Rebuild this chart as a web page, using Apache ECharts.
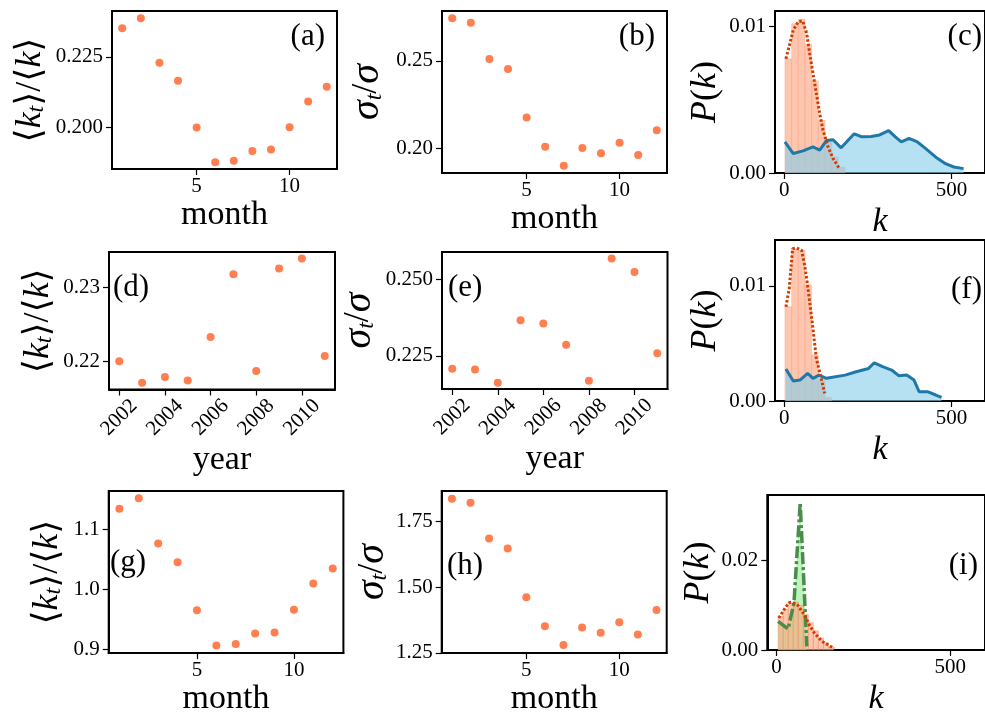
<!DOCTYPE html>
<html>
<head>
<meta charset="utf-8">
<script src="https://cdn.jsdelivr.net/npm/echarts@6/dist/echarts.min.js"></script>
<style>
  html, body { margin: 0; padding: 0; background: #fff; }
  #chart { width: 985px; height: 717px; }
</style>
</head>
<body>
<div id="chart"></div>
<script>
// ---- data ----
const months = [1, 2, 3, 4, 5, 6, 7, 8, 9, 10, 11, 12];
const years = [2002, 2003, 2004, 2005, 2006, 2007, 2008, 2009, 2010, 2011];

const aVals = [0.2351, 0.2386, 0.2229, 0.2165, 0.2000, 0.1877, 0.1882, 0.1917, 0.1922, 0.2001, 0.2092, 0.2144];
const bVals = [0.2742, 0.2717, 0.2511, 0.2454, 0.2177, 0.2011, 0.1903, 0.2003, 0.1973, 0.2034, 0.1963, 0.2104];
const dVals = [0.2200, 0.21706, 0.21787, 0.21738, 0.2233, 0.2318, 0.21868, 0.23258, 0.23394, 0.22072];
const eVals = [0.22075, 0.22055, 0.21617, 0.23668, 0.2356, 0.2286, 0.21682, 0.25687, 0.25249, 0.22588];
const gVals = [1.1343, 1.1517, 1.076, 1.045, 0.965, 0.906, 0.9083, 0.926, 0.9277, 0.9655, 1.0093, 1.0345];
const hVals = [1.8375, 1.8223, 1.6853, 1.6472, 1.462, 1.3516, 1.2793, 1.3463, 1.3261, 1.3668, 1.3198, 1.4136];

// (c)
const cBinEdges = [2, 22, 42, 62, 82, 102, 122, 142, 162, 182];
const cBinP = [0.0078, 0.0102, 0.0105, 0.0088, 0.0063, 0.0036, 0.0021, 0.0011, 0.0004];
const cFitK = [5, 17, 27, 42, 55, 67, 76, 86, 96, 106, 116, 131, 146, 165];
const cFitP = [0.0078, 0.00886, 0.00977, 0.01034, 0.01039, 0.00955, 0.00818, 0.00681, 0.00544, 0.00407, 0.00292, 0.00178, 0.00099, 0.0003];
const cBlueK = [2, 27, 56, 86, 106, 126, 146, 170, 209, 232, 260, 285, 312, 332, 350, 373, 398, 423, 452, 482, 507, 536];
const cBlueP = [0.00212, 0.00133, 0.00151, 0.00178, 0.00157, 0.00222, 0.00227, 0.00172, 0.00268, 0.00247, 0.00249, 0.0026,
                0.0029, 0.00247, 0.00212, 0.00236, 0.00212, 0.00167, 0.0011, 0.00064, 0.00041, 0.0003];

// (f)
const fBinEdges = [2, 22, 42, 62, 82, 102, 122, 142];
const fBinP = [0.0082, 0.0132, 0.0131, 0.0101, 0.0040, 0.0018, 0.0003];
const fFitK = [5, 15, 25, 37, 52, 62, 71, 84, 96, 108, 121];
const fFitP = [0.00818, 0.00977, 0.01324, 0.0133, 0.0131, 0.01165, 0.00977, 0.00674, 0.0037, 0.00225, 0.00067];
const fBlueK = [5, 27, 47, 70, 86, 104, 126, 182, 215, 252, 269, 294, 321, 342, 366, 388, 403, 428, 453, 470];
const fBlueP = [0.00278, 0.00173, 0.00182, 0.0024, 0.00197, 0.00225, 0.00197, 0.00225, 0.00254, 0.00283, 0.00332,
                0.00298, 0.00269, 0.0022, 0.00225, 0.00182, 0.00081, 0.00081, 0.00052, 0.00032];

// (i)
const iBinEdges = [4.5, 19, 33.5, 48, 62.5, 77, 91.5, 106, 120.5, 135, 149.5, 164];
const iBinP = [0.0075, 0.0091, 0.0105, 0.0107, 0.0100, 0.0079, 0.0061, 0.0043, 0.0027, 0.00165, 0.0007];
const iFitK = [6.5, 25.5, 36, 45, 61, 80, 95, 109, 131, 154, 166];
const iFitP = [0.00715, 0.0095, 0.01057, 0.01071, 0.0100, 0.00786, 0.0055, 0.00379, 0.00193, 0.00086, 0.00036];
const iGreenK = [4.5, 33, 50, 68, 87];
const iGreenP = [0.0064, 0.0047, 0.0104, 0.0329, 0.0008];

// tick labels
const monthTicks = [5, 10];
const yearTicks = [2002, 2004, 2006, 2008, 2010];
const kTicks = [0, 500];

// ---- layout ----
const FONT = '"Liberation Serif", "DejaVu Serif", serif';
const panels = [
  { id: 'a', grid: [112, 11, 225, 158],     lab: [325, 36.5, 'right'] },
  { id: 'b', grid: [442, 11, 225, 162],     lab: [655, 36.5, 'right'] },
  { id: 'c', grid: [775, 11, 211.4, 162],   lab: [982, 36.5, 'right'] },
  { id: 'd', grid: [109, 252, 226, 137.5],  lab: [113, 287.5, 'left'] },
  { id: 'e', grid: [442, 252, 225.5, 137],  lab: [448, 287.5, 'left'] },
  { id: 'f', grid: [775, 240, 211.4, 161],  lab: [982, 290, 'right'] },
  { id: 'g', grid: [108.7, 491, 234.7, 162.3], lab: [110, 563, 'left'] },
  { id: 'h', grid: [441.7, 491, 225, 162.3],   lab: [447, 566, 'left'] },
  { id: 'i', grid: [767.3, 495, 220.6, 161.7], lab: [978, 566, 'right'] },
];

const NAME_SIZE = 36;
const rich = {
  r: { fontFamily: FONT, fontSize: NAME_SIZE, color: '#000' },
  i: { fontFamily: FONT, fontSize: NAME_SIZE, fontStyle: 'italic', color: '#000' },
  g: { fontFamily: FONT, fontSize: NAME_SIZE + 4, fontStyle: 'italic', color: '#000' },
  s: { fontFamily: FONT, fontSize: 24, fontStyle: 'italic', color: '#000', verticalAlign: 'bottom', lineHeight: 27 },
};
const nameKt = '{r|⟨}{i|k}{s|t}{r|⟩/⟨}{i|k}{r|⟩}';
const nameSig = '{g|σ}{s|t}{r|/}{g|σ}';
const nameP = '{i|P}{r|(}{i|k}{r|)}';

function xAxisOf(min, max, ticks, name, gap, opts = {}) {
  const label = {
    customValues: ticks, fontFamily: FONT, fontSize: 21, color: '#000', margin: 7,
    formatter: v => String(v),
  };
  if (opts.rotate) Object.assign(label, { rotate: opts.rotate, align: 'center', verticalAlign: 'middle', margin: 28 });
  return {
    type: 'value', min, max,
    name, nameLocation: 'middle', nameGap: gap,
    nameTextStyle: { fontFamily: FONT, fontSize: 34, color: '#000', fontStyle: opts.italic ? 'italic' : 'normal' },
    axisLine: { show: true, onZero: false, lineStyle: { color: '#000', width: 2 } },
    axisTick: { show: true, length: 6, lineStyle: { color: '#000', width: 1.2 }, customValues: ticks },
    axisLabel: label,
    splitLine: { show: false },
  };
}

function yAxisOf(min, max, ticks, digits, name, gap) {
  return {
    type: 'value', min, max,
    name, nameLocation: 'middle', nameGap: gap,
    nameTextStyle: { fontFamily: FONT, fontSize: NAME_SIZE, color: '#000', rich },
    axisLine: { show: true, onZero: false, lineStyle: { color: '#000', width: 2 } },
    axisTick: { show: true, length: 6, lineStyle: { color: '#000', width: 1.2 }, customValues: ticks },
    axisLabel: {
      customValues: ticks, fontFamily: FONT, fontSize: 21, color: '#000', margin: 9,
      formatter: v => v.toFixed(digits),
    },
    splitLine: { show: false },
  };
}

const xAxes = [
  xAxisOf(0.45, 12.55, monthTicks, 'month', 29),
  xAxisOf(0.45, 12.55, monthTicks, 'month', 23),
  xAxisOf(-27.6, 600, kTicks, 'k', 32, { italic: true }),
  xAxisOf(2001.55, 2011.45, yearTicks, 'year', 53, { rotate: 45 }),
  xAxisOf(2001.55, 2011.45, yearTicks, 'year', 51, { rotate: 45 }),
  xAxisOf(-27.6, 600, kTicks, 'k', 32, { italic: true }),
  xAxisOf(0.45, 12.55, monthTicks, 'month', 23),
  xAxisOf(0.45, 12.55, monthTicks, 'month', 23),
  xAxisOf(-26.7, 600, kTicks, 'k', 32, { italic: true }),
];

const yAxes = [
  yAxisOf(0.1853, 0.2412, [0.200, 0.225], 3, nameKt, 63),
  yAxisOf(0.1861, 0.2784, [0.20, 0.25], 2, nameSig, 55),
  yAxisOf(0, 0.01107, [0, 0.01], 2, nameP, 51),
  yAxisOf(0.21616, 0.23483, [0.22, 0.23], 2, nameKt, 52),
  yAxisOf(0.21414, 0.25903, [0.225, 0.250], 3, nameSig, 63),
  yAxisOf(0, 0.01399, [0, 0.01], 2, nameP, 51),
  yAxisOf(0.8933, 1.1638, [0.9, 1.0, 1.1], 1, nameKt, 43),
  yAxisOf(1.2489, 1.8668, [1.25, 1.50, 1.75], 2, nameSig, 45),
  yAxisOf(0, 0.03463, [0, 0.02], 2, nameP, 51),
];

const grids = panels.map(p => ({
  left: p.grid[0], top: p.grid[1], width: p.grid[2], height: p.grid[3],
  show: true, borderColor: '#000', borderWidth: 2, backgroundColor: 'transparent',
}));

xAxes.forEach((a, i) => { a.gridIndex = i; });
yAxes.forEach((a, i) => { a.gridIndex = i; });

const zip = (xs, ys) => xs.map((x, j) => [x, ys[j]]);
const binsOf = (edges, p) => p.map((v, j) => [edges[j], edges[j + 1], v]);

function scatter(idx, xs, ys) {
  return {
    type: 'scatter', xAxisIndex: idx, yAxisIndex: idx, data: zip(xs, ys),
    symbolSize: 8, itemStyle: { color: '#ff7f50', opacity: 1 }, silent: true, z: 3,
  };
}

function bars(idx, edges, p, fill, stroke, z) {
  return {
    type: 'custom', xAxisIndex: idx, yAxisIndex: idx, data: binsOf(edges, p),
    encode: { x: [0, 1], y: 2 }, z, silent: true,
    renderItem: (params, api) => {
      const p0 = api.coord([api.value(0), api.value(2)]);
      const p1 = api.coord([api.value(1), 0]);
      return {
        type: 'rect',
        shape: { x: p0[0], y: p0[1], width: p1[0] - p0[0], height: p1[1] - p0[1] },
        style: { fill, stroke, lineWidth: 0.8 },
      };
    },
  };
}

function line(idx, xs, ys, color, width, type, area, z) {
  const s = {
    type: 'line', xAxisIndex: idx, yAxisIndex: idx, data: zip(xs, ys),
    symbol: 'none', showSymbol: false, silent: true, z,
    lineStyle: { color, width, type, cap: 'butt' },
  };
  if (area) s.areaStyle = { color: area, opacity: 1 };
  return s;
}

const ORANGE_FILL = 'rgba(255,160,122,0.6)';
const ORANGE_EDGE = 'rgba(240,140,105,0.3)';
const BLUE_FILL = 'rgba(135,206,235,0.62)';
const BLUE_LINE = '#1f78a8';
const FIT = '#d03c00';
const GREEN_FILL = 'rgba(144,238,144,0.6)';
const GREEN_LINE = '#4a8c4a';

const series = [
  scatter(0, months, aVals),
  scatter(1, months, bVals),
  bars(2, cBinEdges, cBinP, ORANGE_FILL, ORANGE_EDGE, 1),
  line(2, cBlueK, cBlueP, BLUE_LINE, 3, 'solid', BLUE_FILL, 2),
  line(2, cFitK, cFitP, FIT, 3, [2.5, 2], null, 3),
  scatter(3, years, dVals),
  scatter(4, years, eVals),
  bars(5, fBinEdges, fBinP, ORANGE_FILL, ORANGE_EDGE, 1),
  line(5, fBlueK, fBlueP, BLUE_LINE, 3, 'solid', BLUE_FILL, 2),
  line(5, fFitK, fFitP, FIT, 3, [2.5, 2], null, 3),
  scatter(6, months, gVals),
  scatter(7, months, hVals),
  line(8, iGreenK, iGreenP, 'rgba(0,0,0,0)', 0, 'solid', GREEN_FILL, 1),
  bars(8, iBinEdges, iBinP, ORANGE_FILL, 'rgba(235,140,100,0.55)', 2),
  line(8, iGreenK, iGreenP, GREEN_LINE, 3.5, [12, 3, 3, 3], null, 3),
  line(8, iFitK, iFitP, FIT, 3, [2.5, 2], null, 4),
];

const graphic = panels.map(p => ({
  type: 'text', x: p.lab[0], y: p.lab[1], silent: true, z: 10,
  style: {
    text: '(' + p.id + ')', font: '31px ' + FONT, fill: '#000',
    textAlign: p.lab[2], textVerticalAlign: 'middle',
  },
}));

const chart = echarts.init(document.getElementById('chart'), null, { renderer: 'canvas' });
chart.setOption({
  animation: false,
  backgroundColor: '#fff',
  grid: grids,
  xAxis: xAxes,
  yAxis: yAxes,
  series,
  graphic,
});
</script>
</body>
</html>
